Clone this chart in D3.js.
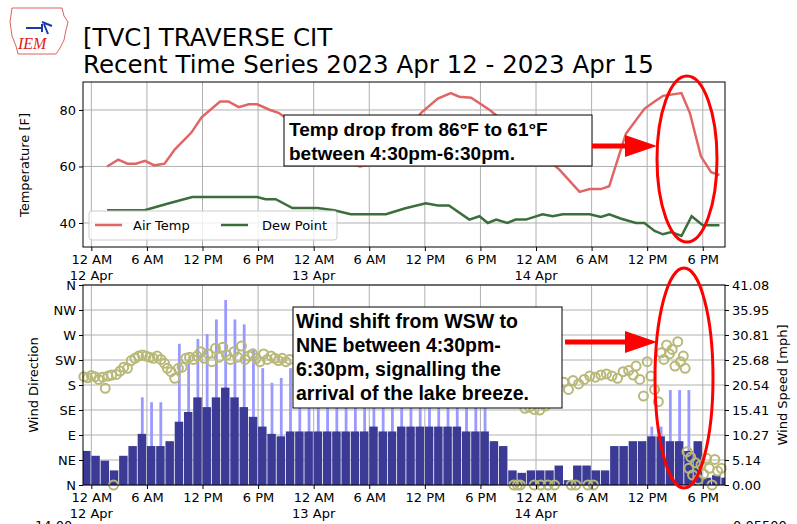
<!DOCTYPE html>
<html><head><meta charset="utf-8">
<script src="https://cdn.jsdelivr.net/npm/d3@7"></script>
<style>body{margin:0;background:#fff}svg{font-family:"DejaVu Sans",sans-serif}</style>
</head><body><svg id="c" width="797" height="524"></svg>
<script>
// hours since 12 Apr 00:00
const tempHours = [1.7,2.9,3.9,4.8,5.8,6.8,7.9,9.0,10.8,11.9,13.9,14.8,15.9,17.0,17.9,19.3,20.2,21.1,22.5,24,25,27,29,30.5,32,34,35.6,37.4,38.8,39.7,41.0,43.0,44.5,46,47.5,49,50.5,52.7,53.8,55,55.9,57.7,59.7,60.8,61.7,63.7,64.6,65.8,66.9,67.8];
const tempVals  = [60,62.4,61,61,62,60.4,61,66,72,77.4,83,83,81,82,82,80,79,77,74,70,66,62,60,61,66,72,79,84,86,84.7,84.3,80,76,72,67,63,59,51,52,52,53,71.6,80.4,83,85,86,79,63.6,58,57];
const dewHours = [1.7,5.75,8.2,10.9,17.9,18.8,19.9,21.7,24.4,26.2,28,31.8,33.8,36.1,37.4,38.6,40.8,41.9,42.8,43.7,44.9,45.8,46.9,48.7,49.8,50.9,53.8,55,55.9,57.2,58.8,59.7,60.8,61.7,62.6,63.7,64.8,66,67.8];
const dewVals  = [44.5,44.5,46.8,49.2,49.2,48.4,48.4,45.3,45.3,44.5,43.1,43.1,45.1,47,46.2,46.2,41.2,42.4,40,41.2,40,41.2,41.2,43.1,42.4,43.1,43.1,42.1,43.1,41.5,40,40,37.2,36,36.8,35.4,42.4,39.2,39.2];
// hourly wind (mph), starting hour -1
const windStart = -1;
const speedVals = [7,6,5,3,6,8,10.5,8,8,9,13,15,18,16,18,20,18,16,14,12,10.5,10,11,11,11,11,11,11,11,11,11,12,11,11,12,12,12,12,12,12,12,11,11,11,9,8,3,2.5,3,3,3,4,1,4,4,3,3,8,8,9,9,10,10,9,9,7,9,1.5,2,1.5];
const gustVals  = [0,0,0,0,0,0,18,17,17,0,29,25,30,31,34,38,34,33,28,24,21,22,24,20,22,18,17,16,18,17,16,18,16,17,18,16,17,18,17,16,16,16,16,16,9,0,0,0,0,0,0,0,0,0,0,0,0,0,0,0,0,12,12,19.5,19.5,19.5,0,0,0,0];
const dirHours = [-0.8,-0.4,0,0.4,0.8,1.2,1.5,1.8,2.2,2.4,2.7,3.1,3.5,3.9,4.3,4.7,5.1,5.5,5.9,6.3,6.7,7.1,7.5,7.9,8.2,8.6,9.0,9.4,9.8,10.2,10.6,11,11.4,11.8,12.2,12.6,13,13.4,13.8,14.2,14.6,15,15.4,15.8,16.2,16.6,17,17.4,17.8,18.2,18.6,19,19.4,19.8,20.2,20.6,21,21.4,
 46.8,47.3,47.8,48.4,49,49.6,50.2,51,51.5,52,52.6,53.2,53.8,54.4,55,55.6,56.2,56.8,57.4,58,58.5,58.8,59.2,59.6,60,60.4,60.8,61.2,61.5,61.8,62.1,62.4,62.7,63,63.3,63.6,63.9,64.1,64.3,64.5,64.7,64.9,65.2,65.5,65.8,66.1,66.4,66.7,67,67.3,67.6,68,
 45.6,46,46.3,47.8,48.5,49.3,50,51.8,52.3,53.6,54.2];
const dirVals  = [195,193,197,195,190,194,174,196,198,0,199,205,212,210,224,228,232,234,232,230,228,232,226,219,210,204,192,210,212,228,230,226,232,240,228,236,222,246,230,248,234,226,240,230,250,226,232,236,228,222,236,226,232,228,224,228,222,226,
 138,140,136,135,142,165,176,185,172,188,182,190,196,194,198,200,196,192,204,206,198,214,190,160,222,196,172,150,238,226,252,236,244,214,258,222,232,210,60,30,50,18,40,10,36,20,48,30,0,46,25,30,
 0,0,0,0,0,0,0,0,0,0,0];
const tempTicks = [40,60,80];
const dirTicks = [0,45,90,135,180,225,270,315,360];
const dirLabels = ["N","NE","E","SE","S","SW","W","NW","N"];
const speedTicks = [0,5.14,10.27,15.41,20.54,25.68,30.81,35.95,41.08];
const timeTicks = [0,6,12,18,24,30,36,42,48,54,60,66];
const timeLabels = ["12 AM","6 AM","12 PM","6 PM","12 AM","6 AM","12 PM","6 PM","12 AM","6 AM","12 PM","6 PM"];
const dateLabels = {0:"12 Apr",24:"13 Apr",48:"14 Apr"};

const svg = d3.select("#c");
const L=83,R=725;
const x = d3.scaleLinear().domain([-0.9,68.4]).range([L,R]);
const yT = d3.scaleLinear().domain([31.5,89.9]).range([247,82]);
const yD = d3.scaleLinear().domain([0,360]).range([485,285]);
const yS = d3.scaleLinear().domain([0,41.08]).range([485,285]);
const grid="#b0b0b0";

// logo
const lg=svg.append("g");
lg.append("path").attr("d","M12,8 L62,8 L64,16 L68,22 L66,30 L64,40 L60,48 L56,54 L18,54 L16,46 L12,36 L10,22 Z").attr("fill","none").attr("stroke","#e06060").attr("stroke-width",1);
lg.append("path").attr("d","M26,28 L42,28 M42,24 L42,32 M42,22 L52,26 M44,24 L48,34").attr("stroke","#1a3aa8").attr("stroke-width",2).attr("fill","none");
lg.append("text").attr("x",18).attr("y",49).attr("fill","#e02020").attr("font-family","Liberation Serif").attr("font-style","italic").attr("font-size",16).text("IEM");

svg.append("text").attr("x",83).attr("y",46).attr("font-size",24.5).text("[TVC] TRAVERSE CIT");
svg.append("text").attr("x",83).attr("y",73).attr("font-size",24.5).text("Recent Time Series 2023 Apr 12 - 2023 Apr 15");

// top panel
const topP=svg.append("g");
timeTicks.forEach(t=>topP.append("line").attr("x1",x(t)).attr("x2",x(t)).attr("y1",82).attr("y2",247).attr("stroke",grid));
tempTicks.forEach(v=>topP.append("line").attr("x1",L).attr("x2",R).attr("y1",yT(v)).attr("y2",yT(v)).attr("stroke",grid));
const ln=d3.line().x(d=>x(d[0])).y(d=>yT(d[1]));
topP.append("path").attr("d",ln(d3.zip(tempHours,tempVals))).attr("fill","none").attr("stroke","#e06666").attr("stroke-width",2.5);
topP.append("path").attr("d",ln(d3.zip(dewHours,dewVals))).attr("fill","none").attr("stroke","#3b6e3b").attr("stroke-width",2.5);
topP.append("rect").attr("x",L).attr("y",82).attr("width",R-L).attr("height",165).attr("fill","none").attr("stroke","#000");
topP.append("g").attr("transform",`translate(${L},0)`).call(d3.axisLeft(yT).tickValues(tempTicks).tickSize(4)).call(g=>{g.select(".domain").remove();g.selectAll("text").attr("font-size",13).attr("font-family","DejaVu Sans")});
topP.append("g").attr("transform",`translate(0,247)`).call(d3.axisBottom(x).tickValues(timeTicks).tickFormat((d,i)=>timeLabels[i]).tickSize(4)).call(g=>{g.select(".domain").remove();g.selectAll("text").attr("font-size",13).attr("font-family","DejaVu Sans").attr("dy","0.75em")});
Object.entries(dateLabels).forEach(([h,t])=>topP.append("text").attr("x",x(+h)).attr("y",280).attr("text-anchor","middle").attr("font-size",13).text(t));
svg.append("text").attr("transform","translate(29,165) rotate(-90)").attr("text-anchor","middle").attr("font-size",13).text("Temperature [F]");
// legend
const lgd=topP.append("g");
lgd.append("rect").attr("x",89).attr("y",211).attr("width",248).attr("height",29).attr("rx",3).attr("fill","#fff").attr("fill-opacity",0.8).attr("stroke","#ccc");
lgd.append("line").attr("x1",95).attr("x2",122).attr("y1",225).attr("y2",225).attr("stroke","#e06666").attr("stroke-width",2.5);
lgd.append("text").attr("x",133).attr("y",230).attr("font-size",13).text("Air Temp");
lgd.append("line").attr("x1",221).attr("x2",248).attr("y1",225).attr("y2",225).attr("stroke","#3b6e3b").attr("stroke-width",2.5);
lgd.append("text").attr("x",262).attr("y",230).attr("font-size",13).text("Dew Point");

// bottom panel
const bot=svg.append("g");
timeTicks.forEach(t=>bot.append("line").attr("x1",x(t)).attr("x2",x(t)).attr("y1",285).attr("y2",485).attr("stroke",grid));
dirTicks.forEach(v=>bot.append("line").attr("x1",L).attr("x2",R).attr("y1",yD(v)).attr("y2",yD(v)).attr("stroke",grid));
const bw=x(1)-x(0);
gustVals.forEach((g,i)=>{ if(g>0){ const h=windStart+i; bot.append("rect").attr("x",x(h+0.35)).attr("width",bw*0.3).attr("y",yS(g)).attr("height",485-yS(g)).attr("fill","#9999ff");}});
speedVals.forEach((s,i)=>{ const h=windStart+i; const x0=Math.max(L,x(h)); const x1=Math.min(R,x(h)+bw-0.8); if(x1>x0) bot.append("rect").attr("x",x0).attr("width",x1-x0).attr("y",yS(s)).attr("height",485-yS(s)).attr("fill","#3b3b96");});
const nDir=Math.min(dirHours.length,dirVals.length);
for(let i=0;i<nDir;i++) bot.append("circle").attr("cx",x(dirHours[i])).attr("cy",yD(dirVals[i])).attr("r",4.5).attr("fill","none").attr("stroke","#b8b878").attr("stroke-width",2);
bot.append("rect").attr("x",L).attr("y",285).attr("width",R-L).attr("height",200).attr("fill","none").attr("stroke","#000");
bot.append("g").attr("transform",`translate(${L},0)`).call(d3.axisLeft(yD).tickValues(dirTicks).tickFormat((d,i)=>dirLabels[i]).tickSize(4)).call(g=>{g.select(".domain").remove();g.selectAll("text").attr("font-size",13).attr("font-family","DejaVu Sans")});
bot.append("g").attr("transform",`translate(${R},0)`).call(d3.axisRight(yS).tickValues(speedTicks).tickFormat(d3.format(".2f")).tickSize(4)).call(g=>{g.select(".domain").remove();g.selectAll("text").attr("font-size",13).attr("font-family","DejaVu Sans")});
bot.append("g").attr("transform",`translate(0,485)`).call(d3.axisBottom(x).tickValues(timeTicks).tickFormat((d,i)=>timeLabels[i]).tickSize(4)).call(g=>{g.select(".domain").remove();g.selectAll("text").attr("font-size",13).attr("font-family","DejaVu Sans").attr("dy","0.75em")});
Object.entries(dateLabels).forEach(([h,t])=>bot.append("text").attr("x",x(+h)).attr("y",518).attr("text-anchor","middle").attr("font-size",13).text(t));
svg.append("text").attr("transform","translate(38,385) rotate(-90)").attr("text-anchor","middle").attr("font-size",13).text("Wind Direction");
svg.append("text").attr("transform","translate(787,385) rotate(-90)").attr("text-anchor","middle").attr("font-size",13).text("Wind Speed [mph]");
svg.append("text").attr("x",35).attr("y",530).attr("font-size",13).text("14.00");
svg.append("text").attr("x",733).attr("y",530).attr("font-size",13).text("0.05500");

// annotations
const an=svg.append("g").attr("font-family","Liberation Sans").attr("font-weight","bold");
an.append("rect").attr("x",284).attr("y",115).attr("width",308).attr("height",51).attr("fill","#fff").attr("stroke","#000");
an.append("text").attr("x",289).attr("y",136).attr("font-size",19).text("Temp drop from 86°F to 61°F");
an.append("text").attr("x",289).attr("y",160).attr("font-size",19).text("between 4:30pm-6:30pm.");
an.append("rect").attr("x",293).attr("y",307).attr("width",269).attr("height",101).attr("fill","#fff").attr("stroke","#000");
["Wind shift from WSW to","NNE between 4:30pm-","6:30pm, signalling the","arrival of the lake breeze."].forEach((t,i)=>an.append("text").attr("x",296).attr("y",328+i*24).attr("font-size",19.5).text(t));
function arrow(x0,x1,y){svg.append("line").attr("x1",x0).attr("x2",x1-28).attr("y1",y).attr("y2",y).attr("stroke","#f00").attr("stroke-width",5);
 svg.append("path").attr("d",`M${x1-32},${y-11}L${x1},${y}L${x1-32},${y+11}Z`).attr("fill","#f00");}
arrow(592,657,146); arrow(565,657,342);
svg.append("ellipse").attr("cx",687).attr("cy",159).attr("rx",30).attr("ry",83).attr("fill","none").attr("stroke","#f00").attr("stroke-width",3);
svg.append("ellipse").attr("cx",684).attr("cy",378).attr("rx",29).attr("ry",110).attr("fill","none").attr("stroke","#f00").attr("stroke-width",3);
</script></body></html>
